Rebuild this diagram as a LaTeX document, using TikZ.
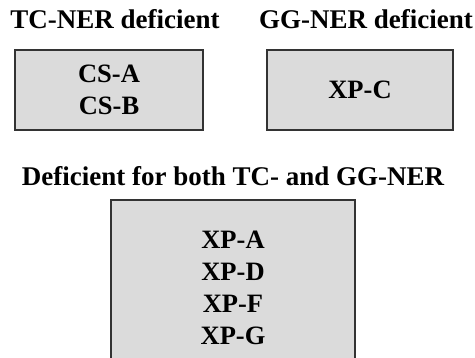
\documentclass[tikz,border=0pt]{standalone}
\usepackage{fontspec}
\setmainfont{Liberation Serif}
\usetikzlibrary{positioning}

\tikzset{
  groupbox/.style={draw=black!80, line width=1.4pt, fill=black!14, align=center,
    font=\bfseries\fontsize{26.5}{32}\selectfont},
  grouptitle/.style={inner sep=0pt, font=\bfseries\fontsize{27}{32}\selectfont},
}

\begin{document}
\begin{tikzpicture}[x=1pt, y=-1pt]
    \useasboundingbox (0,0) rectangle (475,358);
    \clip (0,0) rectangle (475,358);
    % the three groups of complementation groups
    \node[groupbox, minimum width=188pt, minimum height=80pt] (tc) at (109,90) {CS-A\\CS-B};
    \node[groupbox, minimum width=186pt, minimum height=80pt] (gg) at (360,90) {XP-C};
    \node[groupbox, minimum width=244pt, minimum height=175pt] (both) at (233,287.5) {XP-A\\XP-D\\XP-F\\XP-G};
    \node[grouptitle, above=20pt of tc, xshift=6pt] (tctitle) {TC-NER deficient};
    \node[grouptitle, above=20pt of gg, xshift=6pt] (ggtitle) {GG-NER deficient};
    \node[grouptitle, above=13pt of both] (bothtitle) {Deficient for both TC- and GG-NER};
\end{tikzpicture}
\end{document}
